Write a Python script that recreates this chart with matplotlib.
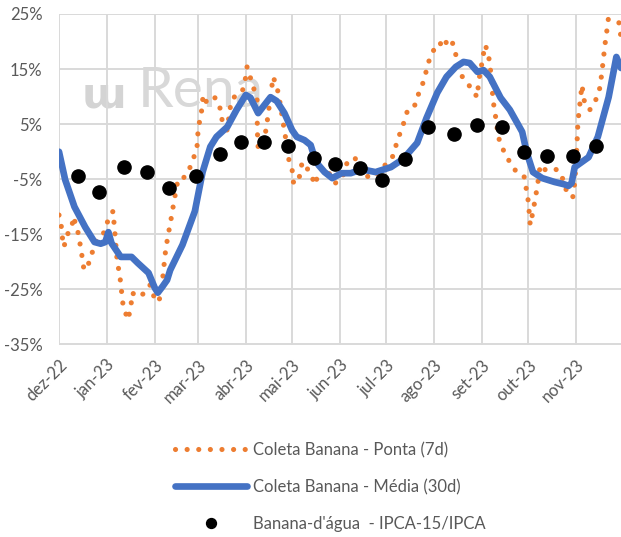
import numpy as np
import pandas as pd
import matplotlib
matplotlib.use("Agg")
import matplotlib.pyplot as plt

plt.rcParams['font.family'] = ['Lato', 'DejaVu Sans']

inicio = pd.Timestamp('2022-12-01')

# Coleta Banana - Ponta (7d): dias desde 01/dez/22 e variação (%)
ponta_dias = [0, 1.3, 1.9, 3.2, 5.2, 8.4, 9.1, 11.7, 13.0, 14.3, 16.2, 18.8, 21.4, 24.0, 26.6,
              28.5, 30.5, 33.1, 35.0, 35.6, 36.3, 37.6, 38.9, 40.2, 40.8, 41.5, 42.8, 44.1, 45.4,
              46.7, 47.3, 51.2, 55.7, 59.0, 62.2, 64.2, 66.1, 67.4, 68.7, 70.6, 72.0, 73.2, 74.5,
              75.8, 77.1, 79.7, 83.6, 86.8, 89.4, 90.1, 91.4, 92.7, 93.3, 95.9, 101.1, 104.3, 105.6,
              108.9, 110.8, 112.8, 118.6, 120.6, 121.8, 123.8, 125.7, 128.3, 128.4, 128.6, 129.0,
              132.2, 134.8, 136.7, 138.7, 141.3, 143.2, 145.2, 146.5, 148.4, 151.0, 151.7, 154.9,
              157.5, 161.4, 164.6, 165.9, 167.9, 172.4, 178.9, 180.2, 183.4, 186.7, 191.8, 193.1,
              195.1, 200.3, 202.9, 206.1, 211.3, 215.8, 217.8, 219.7, 222.3, 224.2, 226.2, 230.7,
              232.6, 235.3, 237.2, 239.1, 241.7, 245.0, 246.9, 248.9, 252.1, 254.7, 256.6, 259.9,
              264.4, 267.7, 270.9, 271.6, 272.8, 274.1, 274.8, 276.1, 278.1, 279.3, 280.6, 281.3,
              282.6, 284.5, 287.1, 290.3, 292.3, 296.8, 301.4, 302.7, 304.0, 304.6, 305.2, 307.2,
              308.5, 309.8, 311.7, 315.0, 316.9, 320.2, 323.4, 325.5, 327.6, 330.8, 332.8, 334.1,
              335.4, 336.1, 338.7, 340.6, 343.8, 345.8, 348.4, 350.3, 351.6, 352.3, 353.6, 354.9,
              356.2, 358.4, 360.9, 362.9, 364.2]
ponta_val = [-11.5, -12.9, -15.1, -17.3, -15.1, -13.8, -11.8, -13.7, -15.7, -17.8, -21.5, -20.6,
             -18.4, -16.2, -15.5, -15.1, -13.3, -11.7, -10.8, -12.9, -15.1, -19.6, -21.8, -24.2,
             -26.4, -27.8, -28.7, -30.5, -29.6, -27.8, -25.6, -26.4, -25.6, -24.2, -26.9, -27.3,
             -26.0, -22.4, -18.7, -15.1, -13.3, -11.1, -9.1, -6.9, -5.1, -5.1, -3.7, -1.5, 0.9,
             3.9, 6.1, 7.9, 10.3, 8.8, 9.8, 7.9, 5.8, 3.9, 7.9, 9.8, 10.8, 13.0, 15.4, 13.6, 11.8,
             9.8, 5.4, 2.7, 0.7, 0.7, 5.4, 9.4, 13.6, 11.6, 8.8, 5.2, 3.0, -1.0, -3.3, -5.5, -5.7,
             -1.9, -3.3, -5.1, -6.0, -3.9, -2.8, -5.7, -5.5, -4.8, -1.9, -1.1, -2.8, -2.9, -4.6,
             -4.8, -3.9, -2.4, -1.1, 0.7, 2.5, 4.3, 6.1, 7.9, 8.5, 10.3, 12.1, 13.9, 16.1, 17.9,
             19.7, 19.7, 18.8, 20.6, 19.9, 18.1, 14.1, 12.5, 11.2, 9.9, 12.1, 14.5, 16.3, 17.6,
             19.4, 17.6, 15.4, 11.2, 9.0, 6.7, 2.7, 0.7, -1.1, -2.0, -3.9, -4.6, -6.9, -9.1, -11.1,
             -13.3, -10.6, -8.4, -6.4, -2.4, -3.3, -1.5, -2.4, -3.9, -4.2, -6.4, -8.2, -8.2, -5.5,
             0.7, 5.4, 12.1, 8.5, 7.6, 8.5, 9.8, 11.6, 14.3, 16.1, 19.4, 22.1, 25.0, 26.6, 26.1,
             23.0, 20.3]

# Coleta Banana - Média (30d)
media_dias = [0, 4, 10, 17, 23, 27, 30, 32, 34, 40, 47, 51, 58, 62, 64, 67, 70, 72, 80, 88, 93,
              98, 102, 109, 115, 121, 124, 129, 132, 137, 141, 146, 151, 154, 159, 163, 165, 168,
              172, 177, 183, 189, 193, 198, 205, 215, 223, 232, 238, 245, 251, 257, 262, 266, 271,
              275, 279, 286, 292, 300, 303, 307, 313, 321, 327, 330, 332, 334, 343, 349, 356, 361,
              364]
media_val = [0.0, -5.1, -10.0, -13.7, -16.4, -16.7, -16.4, -14.6, -16.6, -19.1, -19.1, -20.2,
             -22.0, -24.7, -25.6, -24.5, -23.3, -21.5, -16.9, -10.8, -3.7, 0.9, 2.7, 4.5, 7.6,
             10.3, 9.8, 7.0, 8.1, 9.9, 9.2, 7.0, 3.9, 2.7, 2.1, 1.2, -0.6, -2.4, -3.7, -4.8, -3.9,
             -3.9, -3.5, -3.3, -3.7, -2.8, -1.3, 1.6, 6.1, 10.7, 13.6, 15.4, 16.3, 16.1, 14.5, 14.8,
             13.6, 9.8, 7.6, 3.6, -0.2, -3.7, -4.8, -5.5, -5.9, -6.2, -5.7, -2.8, -1.0, 2.7, 9.9,
             17.2, 15.2]

# Banana-d'água - IPCA-15/IPCA
ipca_datas = ['2022-12-13', '2022-12-27', '2023-01-12', '2023-01-27', '2023-02-10',
              '2023-02-28', '2023-03-15', '2023-03-29', '2023-04-13', '2023-04-28',
              '2023-05-15', '2023-05-29', '2023-06-14', '2023-06-28', '2023-07-13',
              '2023-07-28', '2023-08-14', '2023-08-29', '2023-09-14', '2023-09-28',
              '2023-10-13', '2023-10-30', '2023-11-14']
ipca_val = [-4.5, -7.25, -2.7, -3.7, -6.5, -4.35, -0.45, 1.8, 1.7, 1.1, -1.2, -2.3, -3.0, -5.1,
            -1.4, 4.4, 3.2, 4.85, 4.4, 0.0, -0.8, -0.8, 1.05]

meses = ['dez-22', 'jan-23', 'fev-23', 'mar-23', 'abr-23', 'mai-23', 'jun-23', 'jul-23',
         'ago-23', 'set-23', 'out-23', 'nov-23']
y_ticks = [-35, -25, -15, -5, 5, 15, 25]

ponta_x = inicio + pd.to_timedelta(ponta_dias, unit='D')
media_x = inicio + pd.to_timedelta(media_dias, unit='D')
ipca_x = pd.to_datetime(ipca_datas)
mes_x = pd.date_range('2022-12-01', periods=len(meses), freq='MS')

cinza = '#595959'

fig = plt.figure(figsize=(6.21, 5.37), dpi=100)
ax = fig.add_axes([59 / 621, 1 - 344.5 / 537, 1 - 59 / 621, (344.5 - 14) / 537])

# marca d'agua
ax.text(0.04, 0.718, '\u026f', transform=ax.transAxes, fontsize=31, color='#d4d4d4',
        fontweight='bold', family='DejaVu Sans', zorder=0)
ax.text(0.14, 0.718, 'Rena', transform=ax.transAxes, fontsize=41, color='#d8d8d8', zorder=0)

l1, = ax.plot(ponta_x, ponta_val, color='#ed7d31', lw=3.7, linestyle=(0, (0.01, 2.25)),
              dash_capstyle='round', label='Coleta Banana - Ponta (7d)', zorder=3)
l2, = ax.plot(media_x, media_val, color='#4472c4', lw=4.8, solid_capstyle='round',
              solid_joinstyle='round', label='Coleta Banana - Média (30d)', zorder=4)
l3, = ax.plot(ipca_x, ipca_val, 'o', color='black', ms=9.5, linestyle='none',
              label="Banana-d'água  - IPCA-15/IPCA", zorder=5)

ax.set_xlim(inicio, pd.Timestamp('2023-11-30'))
ax.set_ylim(-35, 25)
ax.set_yticks(y_ticks)
ax.set_yticklabels([f'{v}%' for v in y_ticks])
ax.set_xticks(mes_x)
ax.set_xticklabels(meses, rotation=45, ha='right', rotation_mode='anchor')
ax.tick_params(axis='both', length=0, labelsize=12, colors=cinza)
ax.tick_params(axis='y', pad=12)
ax.tick_params(axis='x', pad=9)
ax.grid(True, color='#d9d9d9', lw=1.4)
ax.set_axisbelow(True)
for s in ax.spines.values():
    s.set_visible(False)

fig.legend(handles=[l1, l2, l3], loc='upper left', bbox_to_anchor=(175 / 621, 1 - 442 / 537),
           frameon=False, fontsize=12, handlelength=4.3, handletextpad=0.4, labelspacing=1.25,
           borderpad=0, borderaxespad=0, markerscale=0.75, labelcolor=cinza)

fig.savefig('out.png', dpi=100)
